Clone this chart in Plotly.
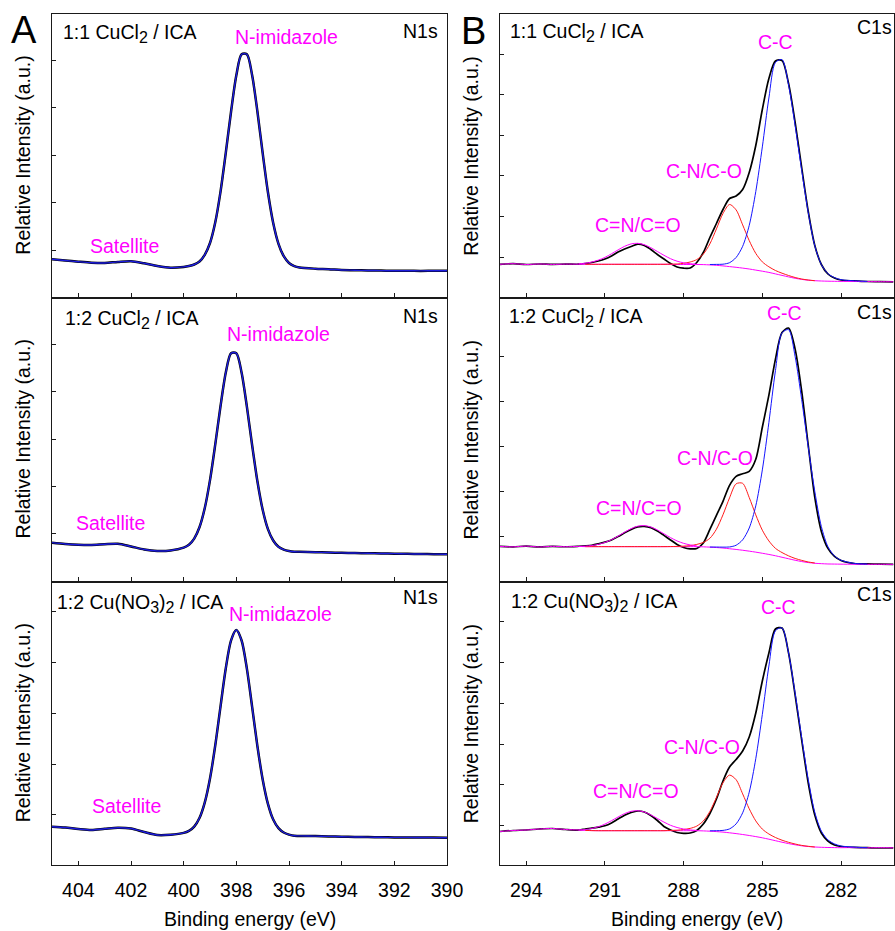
import plotly.graph_objects as go
from plotly.subplots import make_subplots

# ---------------- N 1s region (binding energy in eV, intensity in a.u.) ----------------
N1S_E = [405.0, 404.5, 404.0, 403.5, 403.0, 402.5, 402.0, 401.5, 401.0, 400.5,
         400.0, 399.8, 399.6, 399.4, 399.2, 399.0, 398.8, 398.6, 398.4, 398.2,
         398.0, 397.8, 397.6, 397.4, 397.2, 397.0, 396.8, 396.6, 396.4, 396.2,
         396.0, 395.8, 395.6,
         395.0, 394.5, 394.0, 393.5, 393.0, 392.5, 392.0, 391.5, 391.0, 390.5, 390.0]

N1S_CUCL2_11 = [38.2, 37.0, 35.8, 34.8, 34.5, 35.6, 36.3, 34.2, 31.5, 29.8,
                30.6, 31.5, 33.0, 36.0, 42.7, 54.5, 75.2, 105.9, 144.8, 186.0,
                222.2, 243.2, 243.2, 222.2, 186.0, 144.3, 105.2, 74.5, 53.7, 41.3,
                34.5, 31.4, 30.0,
                28.8, 28.3, 27.5, 27.3, 27.0, 26.9, 26.7, 26.8, 26.6, 26.8, 26.8]

N1S_CUCL2_12 = [38.8, 37.5, 36.7, 36.5, 37.2, 37.6, 35.0, 32.0, 30.5, 31.0,
                33.8, 36.6, 42.8, 54.1, 73.1, 101.2, 136.9, 175.2, 208.6, 227.9,
                227.9, 208.4, 174.6, 136.0, 100.0, 71.6, 52.3, 40.9, 34.6, 31.8,
                30.4, 29.7, 29.6,
                29.2, 29.0, 28.6, 28.4, 28.2, 28.0, 27.8, 27.6, 27.4, 27.3, 27.2]

N1S_CUNO3_12 = [38.3, 37.5, 36.0, 35.0, 36.2, 37.3, 36.5, 33.0, 30.0, 30.3,
                32.1, 34.1, 38.4, 47.0, 62.4, 86.6, 119.7, 158.7, 196.8, 224.7,
                235.0, 224.5, 196.4, 158.1, 118.9, 85.6, 61.2, 45.5, 36.9, 32.5,
                30.4, 29.2, 29.1,
                28.9, 28.6, 28.3, 28.0, 27.9, 27.7, 27.6, 27.6, 27.5, 27.4, 27.3]

# ---------------- C 1s region ----------------
C1S_E = [295.0, 294.5, 294.0, 293.5, 293.0, 292.5,
         292.0, 291.75, 291.5, 291.25, 291.0, 290.75, 290.5, 290.25, 290.0, 289.75,
         289.5, 289.25, 289.0, 288.75, 288.5, 288.25, 288.0, 287.75, 287.5, 287.25,
         287.0, 286.75, 286.5, 286.25, 286.0, 285.75, 285.5, 285.25, 285.0, 284.75,
         284.5, 284.25, 284.0, 283.75, 283.5, 283.25, 283.0, 282.75, 282.5, 282.25,
         282.0,
         281.5, 281.0, 280.5, 280.0]

# 1:1 CuCl2 / ICA
C1S_CUCL2_11_EXP = [33.2, 33.8, 33.0, 33.5, 33.1, 33.4,
                    33.3, 34.0, 35.0, 36.5, 38.5, 41.5, 45.5, 48.5, 51.0, 53.3,
                    52.0, 48.0, 43.0, 38.5, 34.0, 30.5, 29.3, 29.5, 35.0, 45.0,
                    60.0, 74.0, 88.0, 99.0, 101.5, 108.0, 125.0, 152.0, 188.0, 219.0,
                    236.5, 237.0, 214.0, 175.0, 130.0, 86.0, 52.0, 33.0, 23.5, 19.5,
                    17.5,
                    16.6, 16.0, 15.9, 15.7]
C1S_CUCL2_11_BG = [33.2, 33.8, 33.0, 33.5, 33.1, 33.4,
                   33.3, 33.2, 33.2, 33.2, 33.2, 33.2, 33.2, 33.2, 33.2, 33.2,
                   33.2, 33.2, 33.2, 33.2, 33.1, 33.0, 33.0, 33.0, 33.0, 32.9,
                   32.6, 32.2, 31.6, 30.9, 30.2, 29.4, 28.5, 27.4, 26.3, 25.1,
                   23.6, 22.1, 20.6, 19.2, 18.1, 17.3, 16.8, 16.5, 16.3, 16.2,
                   16.1,
                   16.0, 15.9, 15.8, 15.7]
C1S_CUCL2_11_CNCO = [33.7, 34.3, 35.5, 37.4, 40.1, 43.7, 47.6, 51.2, 53.6, 54.2,
                     52.8, 49.8, 46.0, 42.2, 38.8, 36.3, 34.7, 33.8, 33.3]
C1S_CUCL2_11_CNO = [33.2, 33.2, 33.2, 33.2, 33.2, 33.2, 33.2, 33.2, 33.2, 33.2,
                    33.2, 33.2, 33.2,
                    33.4, 33.5, 34.2, 35.5, 37.9, 43.4, 53.6, 68.6, 84.0, 93.0,
                    87.6, 72.6, 56.9, 44.1, 35.6, 30.7, 27.0, 24.3, 22.0, 20.0,
                    18.5, 17.5, 16.8]
C1S_CUCL2_11_CC = [33.0, 33.1, 33.3, 34.8, 40.0, 51.2, 72.1, 105.9, 150.6, 199.5,
                   235.1, 237.9, 212.4, 171.8, 127.1, 84.9, 51.7, 32.9, 23.9, 19.9,
                   17.8, 16.7, 16.1]

# 1:2 CuCl2 / ICA
C1S_CUCL2_12_EXP = [35.0, 34.6, 35.3, 34.5, 35.1, 34.7,
                    35.2, 35.6, 36.2, 37.6, 39.3, 41.5, 44.8, 48.6, 52.0, 54.5,
                    55.0, 53.8, 50.5, 46.0, 41.5, 37.0, 34.0, 32.6, 33.0, 38.5,
                    52.0, 66.0, 80.0, 96.0, 105.0, 107.5, 110.0, 122.0, 154.0, 186.0,
                    222.0, 248.5, 253.0, 232.0, 190.0, 136.0, 84.0, 50.0, 33.0, 25.0,
                    21.0,
                    18.0, 17.5, 17.3, 17.0]
C1S_CUCL2_12_BG = [35.0, 34.6, 35.3, 34.5, 35.1, 34.7,
                   35.0, 34.8, 34.8, 34.8, 34.8, 34.8, 34.8, 34.8, 34.8, 34.8,
                   34.8, 34.8, 34.8, 34.8, 34.8, 34.8, 34.8, 34.8, 34.8, 34.6,
                   34.3, 33.9, 33.4, 32.7, 32.0, 31.2, 30.3, 29.3, 28.2, 27.0,
                   25.7, 24.2, 22.7, 21.2, 19.9, 18.9, 18.2, 17.8, 17.5, 17.4,
                   17.3,
                   17.2, 17.2, 17.2, 17.1]
C1S_CUCL2_12_CNCO = [35.0, 35.3, 35.9, 37.1, 39.0, 41.7, 45.3, 49.2, 52.8, 55.2,
                     55.8, 54.4, 51.4, 47.6, 43.8, 40.5, 38.1, 36.5, 35.6]
C1S_CUCL2_12_CNO = [34.8, 34.8, 34.8, 34.8, 34.8, 34.8, 34.8, 34.8, 34.8, 34.8,
                    34.8, 34.8, 34.8,
                    34.9, 35.0, 35.3, 35.8, 37.0, 39.0, 43.1, 52.2, 66.6, 83.5,
                    97.5, 98.0, 83.8, 66.5, 51.2, 40.5, 33.1, 28.9, 25.6, 23.0,
                    21.1, 19.5, 18.5]
C1S_CUCL2_12_CC = [34.4, 34.4, 34.3, 34.5, 36.2, 41.6, 53.4, 75.5, 111.4, 158.7,
                   210.5, 248.3, 251.4, 224.5, 181.6, 134.4, 89.8, 54.8, 34.8, 25.5,
                   21.2, 18.1, 17.4]

# 1:2 Cu(NO3)2 / ICA
C1S_CUNO3_12_EXP = [33.5, 34.5, 35.0, 36.0, 36.5, 35.5,
                    35.0, 36.0, 36.8, 37.8, 39.2, 42.0, 46.0, 49.8, 52.5, 54.0,
                    53.0, 49.5, 44.5, 38.5, 35.0, 32.5, 31.7, 32.0, 34.5, 41.0,
                    51.5, 66.0, 84.0, 98.0, 105.5, 114.0, 128.0, 152.0, 184.0, 212.0,
                    236.0, 237.0, 212.0, 170.0, 125.0, 82.0, 50.0, 32.0, 24.0, 20.0,
                    18.5,
                    17.6, 17.3, 17.0, 17.2]
C1S_CUNO3_12_BG = [33.5, 34.5, 35.0, 36.0, 36.5, 35.5,
                   35.0, 34.6, 34.4, 34.3, 34.3, 34.3, 34.3, 34.3, 34.3, 34.3,
                   34.3, 34.3, 34.3, 34.3, 34.3, 34.3, 34.3, 34.3, 34.3, 34.1,
                   33.8, 33.4, 32.9, 32.2, 31.4, 30.5, 29.5, 28.4, 27.2, 25.8,
                   24.3, 22.8, 21.4, 20.2, 19.2, 18.5, 18.0, 17.7, 17.5, 17.4,
                   17.3,
                   17.4, 17.2, 17.3, 17.2]
C1S_CUNO3_12_CNCO = [35.0, 35.4, 36.5, 38.3, 40.9, 44.3, 48.0, 51.4, 53.7, 54.3,
                     53.0, 50.1, 46.5, 42.9, 39.7, 37.5, 36.0, 35.1, 34.6]
C1S_CUNO3_12_CNO = [34.6, 34.4, 34.3, 34.3, 34.3, 34.3, 34.3, 34.3, 34.3, 34.3,
                    34.3, 34.3, 34.3,
                    34.6, 34.8, 35.5, 36.6, 38.9, 44.0, 53.5, 67.6, 82.2, 89.9,
                    85.3, 71.1, 56.2, 44.1, 35.9, 31.0, 27.5, 24.8, 22.7, 21.0,
                    19.6, 18.7, 18.0]
C1S_CUNO3_12_CC = [34.2, 34.3, 34.6, 36.1, 41.1, 52.2, 72.8, 106.3, 150.6, 199.0,
                   234.3, 237.1, 211.9, 171.8, 127.5, 85.6, 52.6, 33.9, 25.1, 21.1,
                   19.0, 17.9, 17.3]

# energy spans covered by each fitted component
CNCO_SPAN = (287.5, 292.0)
CNO_SPAN = (283.0, 291.75)
CC_SPAN = (281.0, 287.0)

N1S_TICKS = [404, 402, 400, 398, 396, 394, 392, 390]
C1S_TICKS = [294, 291, 288, 285, 282]
N1S_YTICKS = [[47.5, 94.8, 142.2, 189.8, 236.8],
              [47.8, 94.8, 142.2, 189.5, 236.5],
              [50.7, 101.0, 151.7, 202.7, 253.3]]
C1S_YTICKS = [[40.5, 81.2, 121.8, 162.2, 202.8, 243.5],
              [44.8, 89.8, 134.8, 179.8, 224.8],
              [40.0, 80.7, 121.0, 161.7, 202.3, 243.3]]


def sub(t):
    return f"<sub><span style='font-size:16px'>{t}</span></sub>"


SAMPLES = [f"1:1 CuCl{sub(2)} / ICA",
           f"1:2 CuCl{sub(2)} / ICA",
           f"1:2 Cu(NO{sub(3)}){sub(2)} / ICA"]


def span(lo, hi):
    return [e for e in C1S_E if lo <= e <= hi]


E_CNCO = span(*CNCO_SPAN)
E_CNO = span(*CNO_SPAN)
E_CC = span(*CC_SPAN)

c1s_sets = [
    (C1S_CUCL2_11_EXP, C1S_CUCL2_11_BG, C1S_CUCL2_11_CNCO, C1S_CUCL2_11_CNO, C1S_CUCL2_11_CC),
    (C1S_CUCL2_12_EXP, C1S_CUCL2_12_BG, C1S_CUCL2_12_CNCO, C1S_CUCL2_12_CNO, C1S_CUCL2_12_CC),
    (C1S_CUNO3_12_EXP, C1S_CUNO3_12_BG, C1S_CUNO3_12_CNCO, C1S_CUNO3_12_CNO, C1S_CUNO3_12_CC),
]
n1s_sets = [N1S_CUCL2_11, N1S_CUCL2_12, N1S_CUNO3_12]

for s in n1s_sets:
    assert len(s) == len(N1S_E)
for exp, bg, cnco, cno, cc in c1s_sets:
    assert len(exp) == len(C1S_E) and len(bg) == len(C1S_E)
    assert len(cnco) == len(E_CNCO) and len(cno) == len(E_CNO) and len(cc) == len(E_CC)

# ---------------- figure ----------------
W, H = 895, 931
FONT = "Liberation Sans, Arial, Helvetica, sans-serif"
FS = 19.5
MAGENTA = "#ff00ff"
RED = "#ff1a1a"
BLUE = "#1414ff"
FIT_BLUE = "#1c1ce0"
AXIS = "#1a1a1a"


def px(x):
    return x / W


def py(y):
    return 1 - y / H


fig = make_subplots(rows=3, cols=2, horizontal_spacing=0.05, vertical_spacing=0.0)


def curve(x, y, color, width):
    return go.Scatter(x=x, y=y, mode="lines", hoverinfo="skip", cliponaxis=True,
                      line=dict(color=color, width=width, shape="spline", smoothing=0.8))


for r, y in enumerate(n1s_sets, start=1):
    fig.add_trace(curve(N1S_E, y, "black", 2.5), row=r, col=1)
    fig.add_trace(curve(N1S_E, y, FIT_BLUE, 1.4), row=r, col=1)

for r, (exp, bg, cnco, cno, cc) in enumerate(c1s_sets, start=1):
    fig.add_trace(curve(C1S_E, exp, "black", 1.7), row=r, col=2)
    fig.add_trace(curve(C1S_E, bg, MAGENTA, 1.0), row=r, col=2)
    fig.add_trace(curve(E_CNO, cno, RED, 1.0), row=r, col=2)
    fig.add_trace(curve(E_CC, cc, BLUE, 1.0), row=r, col=2)
    fig.add_trace(curve(E_CNCO, cnco, MAGENTA, 1.0), row=r, col=2)

XL = [px(52), px(447)]
XR = [px(500), px(893.5)]
ROWS = [[py(297.5), py(14)], [py(581.5), py(297.5)], [py(865), py(581.5)]]

common_axis = dict(showline=True, mirror=True, linecolor=AXIS, linewidth=1.3,
                   ticks="inside", ticklen=4, tickwidth=1.1, tickcolor=AXIS,
                   showgrid=False, zeroline=False, automargin=False)

for r in range(3):
    for c in range(2):
        idx = r * 2 + c + 1
        xname = "xaxis" if idx == 1 else f"xaxis{idx}"
        yname = "yaxis" if idx == 1 else f"yaxis{idx}"
        if c == 0:
            xr, tv, yt, dom = [405, 390], N1S_TICKS, N1S_YTICKS[r], XL
        else:
            xr, tv, yt, dom = [295, 280], C1S_TICKS, C1S_YTICKS[r], XR
        fig.layout[xname].update(domain=dom, range=xr, tickvals=tv,
                                 ticktext=[str(t) for t in tv],
                                 showticklabels=(r == 2), ticklabelstandoff=7,
                                 tickfont=dict(family=FONT, size=FS, color="black"),
                                 **common_axis)
        fig.layout[yname].update(domain=ROWS[r], range=[0, 283.5], tickvals=yt,
                                 showticklabels=False, **common_axis)

ann = []


def label(text, x, y, color="black", size=FS, xanchor="center", angle=0):
    ann.append(dict(text=text, x=px(x), y=py(y), xref="paper", yref="paper",
                    xanchor=xanchor, yanchor="middle", showarrow=False, textangle=angle,
                    font=dict(family=FONT, size=size, color=color)))


label("A", 23.5, 30, size=38)
label("B", 473, 31, size=38)

row_mid = [155.7, 439.5, 723.3]
for r in range(3):
    label("Relative Intensity (a.u.)", 23, row_mid[r], angle=-90)
    label("Relative Intensity (a.u.)", 471, row_mid[r], angle=-90)

label("Binding energy (eV)", 249.5, 919)
label("Binding energy (eV)", 697, 919)

# sample names and core levels
for (xl, yl, xr_, yr_), text in zip([(61, 33, 508, 32.7), (62.7, 319, 506.7, 317.7), (55, 603.7, 509, 602)], SAMPLES):
    label(text, xl, yl, xanchor="left")
    label(text, xr_, yr_, xanchor="left")
for y in (31, 315.7, 597.3):
    label("N1s", 440, y, xanchor="right")
for y in (26.7, 311.7, 594):
    label("C1s", 893.5, y, xanchor="right")

# peak assignments
for x, y in [(286.3, 36.7), (278.8, 334.3), (280, 614.3)]:
    label("N-imidazole", x, y, MAGENTA)
for x, y in [(124.7, 245.7), (110.8, 523.3), (126.7, 806)]:
    label("Satellite", x, y, MAGENTA)
for x, y in [(775.5, 41.7), (784, 313.3), (778.3, 607.3)]:
    label("C-C", x, y, MAGENTA)
for x, y in [(703.7, 170.7), (714.5, 458.3), (702.3, 746.7)]:
    label("C-N/C-O", x, y, MAGENTA)
for x, y in [(637.7, 225), (639, 507.7), (636.3, 790.7)]:
    label("C=N/C=O", x, y, MAGENTA)

fig.update_layout(width=W, height=H, margin=dict(l=0, r=0, t=0, b=0),
                  paper_bgcolor="white", plot_bgcolor="white", showlegend=False,
                  annotations=ann, font=dict(family=FONT, size=FS, color="black"))

fig.write_html("out.html", config={"displayModeBar": False})
